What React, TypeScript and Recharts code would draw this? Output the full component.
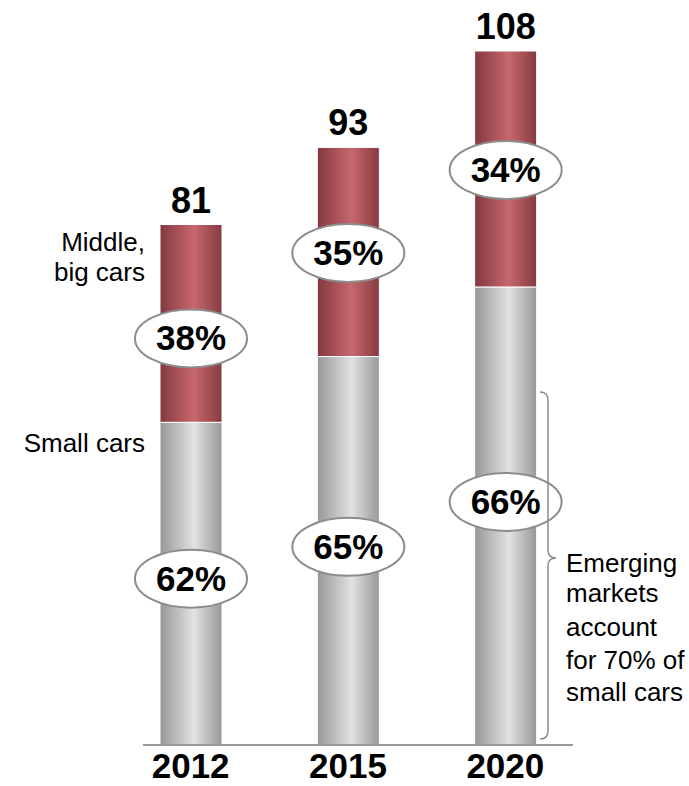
import React from "react";
import { BarChart, Bar, XAxis, YAxis, LabelList } from "recharts";

// Car sales by year (millions), split small vs middle/big cars
const YEARS = ["2012", "2015", "2020"];
const TOTALS = [81, 93, 108];
const SMALL_SHARE = [62, 65, 66];
const BIG_SHARE = [38, 35, 34];

const FONT = '"Liberation Sans", Arial, Helvetica, sans-serif';

const data = YEARS.map((year, i) => {
  const small = (TOTALS[i] * SMALL_SHARE[i]) / 100;
  return {
    year,
    small,
    big: TOTALS[i] - small,
    total: TOTALS[i],
    smallShare: SMALL_SHARE[i],
    bigShare: BIG_SHARE[i],
  };
});

const W = 689;
const H = 786;

// the badges in the original are placed by hand, not exactly mid-segment
const BADGE_NUDGE: Record<string, number[]> = {
  smallShare: [-5, -4, -14],
  bigShare: [15, 1, 1],
};

// ellipse badge with the share in the middle of a segment
const makeShareLabel = (key: "smallShare" | "bigShare") => (props: any) => {
  const { x, y, width, height, index } = props;
  const cx = x + width / 2;
  const cy = y + height / 2 + BADGE_NUDGE[key][index];
  return (
    <g>
      <ellipse cx={cx} cy={cy} rx={56} ry={29} fill="#fff" stroke="#8c8c8c" strokeWidth={2} />
      <text
        x={cx}
        y={cy + 12}
        textAnchor="middle"
        fontFamily={FONT}
        fontWeight="bold"
        fontSize={35}
        fill="#000"
      >
        {data[index][key]}%
      </text>
    </g>
  );
};

const renderTotal = (props: any) => {
  const { x, y, width, index } = props;
  return (
    <text
      x={x + width / 2}
      y={y - 12}
      textAnchor="middle"
      fontFamily={FONT}
      fontWeight="bold"
      fontSize={36}
      fill="#000"
    >
      {data[index].total}
    </text>
  );
};

const renderTick = (props: any) => {
  const { x, y, payload } = props;
  return (
    <text
      x={x}
      y={y + 25}
      textAnchor="middle"
      fontFamily={FONT}
      fontWeight="bold"
      fontSize={35}
      fill="#000"
    >
      {payload.value}
    </text>
  );
};

const sideText = {
  fontFamily: FONT,
  fontSize: 26,
  fill: "#000",
};

export default function App() {
  return (
    <div style={{ position: "absolute", left: 0, top: 0, width: W, height: H, background: "#fff" }}>
      <BarChart
        width={W}
        height={H}
        data={data}
        margin={{ top: 51, right: 105, bottom: 0, left: 112 }}
        barSize={62}
      >
        <defs>
          <linearGradient id="redGrad" x1="0" y1="0" x2="1" y2="0">
            <stop offset="0%" stopColor="#84383f" />
            <stop offset="55%" stopColor="#c7686e" />
            <stop offset="100%" stopColor="#853a40" />
          </linearGradient>
          <linearGradient id="greyGrad" x1="0" y1="0" x2="1" y2="0">
            <stop offset="0%" stopColor="#979797" />
            <stop offset="55%" stopColor="#e2e2e2" />
            <stop offset="100%" stopColor="#989898" />
          </linearGradient>
        </defs>
        <XAxis
          dataKey="year"
          axisLine={false}
          tickLine={false}
          height={41}
          tick={renderTick}
          interval={0}
        />
        <YAxis hide domain={[0, 108]} />
        <Bar dataKey="small" stackId="a" fill="url(#greyGrad)" stroke="#fff" strokeWidth={1} isAnimationActive={false}>
          <LabelList dataKey="smallShare" content={makeShareLabel("smallShare")} />
        </Bar>
        <Bar dataKey="big" stackId="a" fill="url(#redGrad)" stroke="#fff" strokeWidth={1} isAnimationActive={false}>
          <LabelList dataKey="bigShare" content={makeShareLabel("bigShare")} />
          <LabelList dataKey="total" content={renderTotal} />
        </Bar>
      </BarChart>

      <svg
        width={W}
        height={H}
        style={{ position: "absolute", left: 0, top: 0, pointerEvents: "none" }}
      >
        {/* base line */}
        <line x1={143} y1={745} x2={573} y2={745} stroke="#9a9a9a" strokeWidth={2} />

        {/* segment names on the left */}
        <text x={145} y={251} textAnchor="end" {...sideText}>Middle,</text>
        <text x={145} y={281} textAnchor="end" {...sideText}>big cars</text>
        <text x={145} y={452} textAnchor="end" {...sideText}>Small cars</text>

        {/* brace and note */}
        <path
          d="M540,392 Q548,392 548,400 L548,550 Q548,558 556,558 Q548,558 548,566 L548,731 Q548,739 540,739"
          fill="none"
          stroke="#8c8c8c"
          strokeWidth={1.5}
        />
        <text x={566} y={572} {...sideText}>Emerging</text>
        <text x={566} y={602} {...sideText}>markets</text>
        <text x={566} y={636} {...sideText}>account</text>
        <text x={566} y={669} {...sideText}>for 70% of</text>
        <text x={566} y={701} {...sideText}>small cars</text>
      </svg>
    </div>
  );
}
